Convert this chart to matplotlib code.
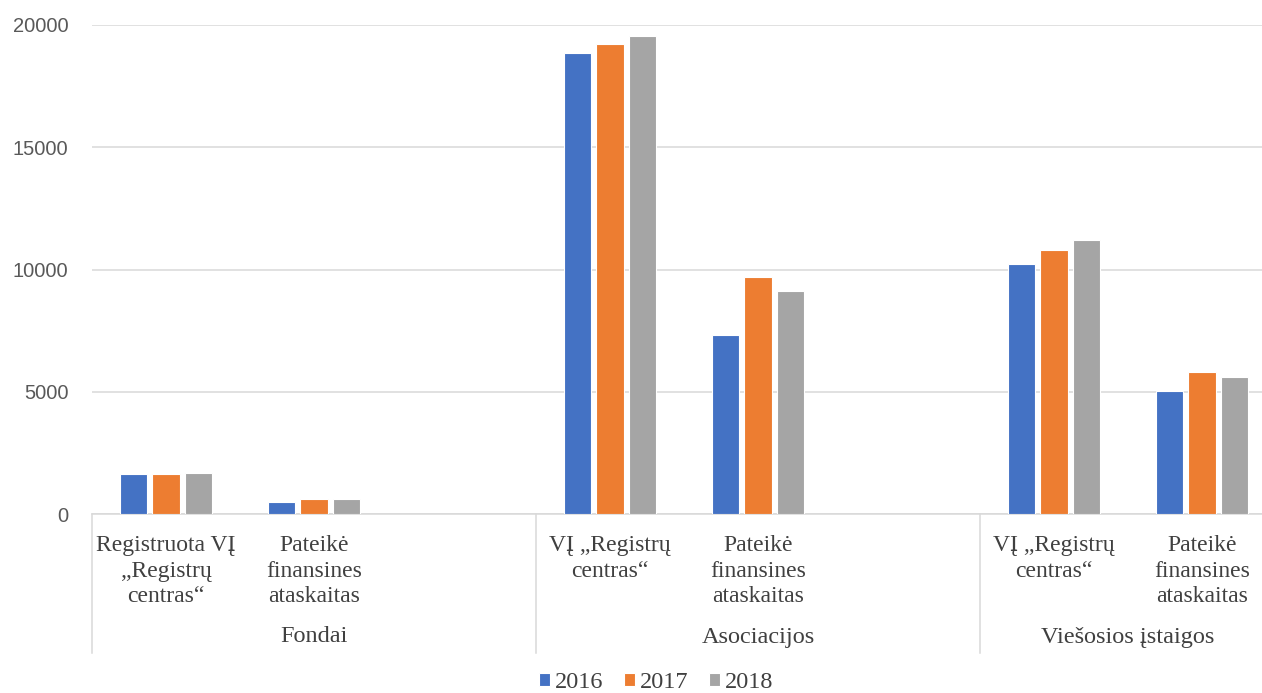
import matplotlib
matplotlib.use("Agg")
import matplotlib.pyplot as plt
from matplotlib.lines import Line2D
import numpy as np

# Organisations by type: registered vs. submitted financial statements
groups = ["Fondai", "Asociacijos", "Viešosios įstaigos"]
categories = [
    "Registruota VĮ\n„Registrų\ncentras“",
    "Pateikė\nfinansines\nataskaitas",
    "VĮ „Registrų\ncentras“",
    "Pateikė\nfinansines\nataskaitas",
    "VĮ „Registrų\ncentras“",
    "Pateikė\nfinansines\nataskaitas",
]
years = ["2016", "2017", "2018"]
values_2016 = [1620, 478, 18860, 7324, 10230, 5030]
values_2017 = [1620, 600, 19240, 9700, 10790, 5790]
values_2018 = [1673, 595, 19570, 9111, 11224, 5600]
yticks = [0, 5000, 10000, 15000, 20000]

colors = ["#4472C4", "#ED7D31", "#A5A5A5"]
series = [values_2016, values_2017, values_2018]

# slot layout: each group leaves an empty slot after its two categories
slot_pos = np.array([0, 1, 3, 4, 6, 7], dtype=float)
group_bounds = [-0.5, 2.5, 5.5]
group_centers = [1.0, 4.0, 6.5]

W, H, DPI = 1262, 693, 100
fig = plt.figure(figsize=(W / DPI, H / DPI), dpi=DPI)
fig.patch.set_facecolor("white")

ax_left, ax_bottom = 92 / W, (H - 514) / H
ax_w, ax_h = 1184 / W, 489 / H
ax = fig.add_axes([ax_left, ax_bottom, ax_w, ax_h])

bar_w = 0.186
step = 0.22
for i, (vals, c, yr) in enumerate(zip(series, colors, years)):
    ax.bar(slot_pos + (i - 1) * step, vals, width=bar_w, color=c,
           edgecolor="white", linewidth=0.8, label=yr, zorder=3)

ax.set_xlim(-0.5, 7.5)
ax.set_ylim(0, 20000)
ax.set_yticks(yticks)
ax.set_yticklabels([str(v) for v in yticks], fontfamily="Liberation Sans",
                   fontsize=14.5, color="#595959")
ax.tick_params(axis="y", length=0, pad=17)
ax.grid(axis="y", color="#d9d9d9", linewidth=1.1, zorder=0)
for s in ["left", "right", "top"]:
    ax.spines[s].set_visible(False)
ax.spines["bottom"].set_color("#d9d9d9")
ax.spines["bottom"].set_linewidth(1.1)

serif = "Liberation Serif"
txt_color = "#404040"

ax.set_xticks(slot_pos)
ax.set_xticklabels(categories, fontfamily=serif, fontsize=17, color=txt_color)
for lbl in ax.get_xticklabels():
    lbl.set_linespacing(1.3)
ax.tick_params(axis="x", length=0, pad=15)

xt = ax.get_xaxis_transform()
axis_px = 489.0
for xb in group_bounds:
    ax.add_line(Line2D([xb, xb], [0, -(653 - 514) / axis_px], transform=xt,
                       color="#d9d9d9", linewidth=1.1, clip_on=False))
for gx, g in zip(group_centers, groups):
    ax.text(gx, -(637 - 514) / axis_px, g, transform=xt, ha="center", va="center",
            fontfamily=serif, fontsize=17.5, color=txt_color)

fig.legend(loc="center", bbox_to_anchor=(656 / W, 1 - 683 / H), ncol=3,
           frameon=False, handlelength=0.45, handleheight=0.45,
           handletextpad=0.2, columnspacing=0.85, borderpad=0.05,
           prop={"family": serif, "size": 17.5},
           labelcolor=txt_color)

fig.savefig("out.png", dpi=DPI, facecolor="white")
